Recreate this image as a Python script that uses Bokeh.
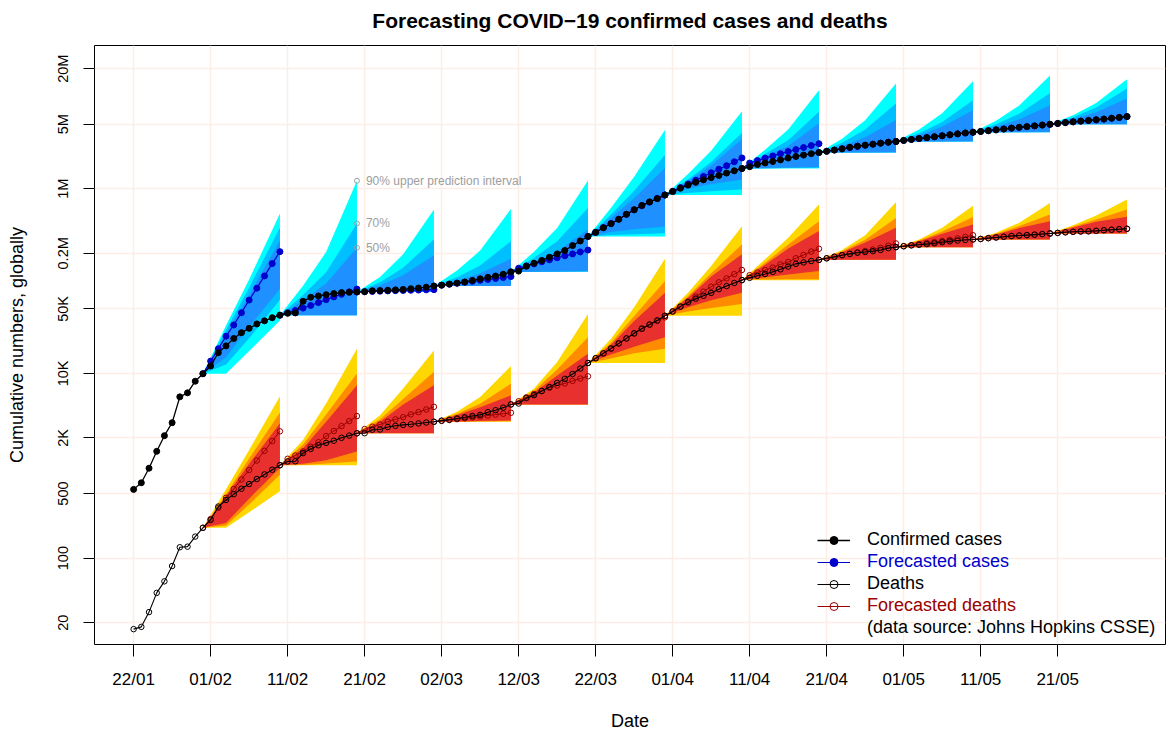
import pandas as pd
from bokeh.plotting import figure
from bokeh.models import Range1d, FixedTicker, Legend, LegendItem, LinearAxis
from bokeh.embed import file_html
from bokeh.resources import INLINE
from bokeh.core.properties import value

FONT = "Liberation Sans"

# ---------------- data ----------------
dates = pd.date_range("2020-01-22", "2020-05-30", freq="D")
date_labels = [d.strftime("%d/%m") for d in dates]
days = list(range(len(dates)))

confirmed = [
    555, 654, 941, 1434, 2118, 2927, 5578, 6166, 8234, 9927,
    12038, 16787, 19887, 23898, 27643, 30802, 34395, 37129, 40160, 42769,
    44811, 45228, 60381, 66907, 69052, 71235, 73270, 75152, 75652, 76212,
    76841, 78602, 78982, 79546, 80399, 81376, 82738, 84122, 86014, 88371,
    90309, 92844, 95124, 97886, 101801, 105847, 109821, 113590, 118620, 125875,
    128352, 145205, 156101, 167454, 181574, 197102, 214821, 242570, 272208, 304507,
    336953, 378235, 418045, 467653, 529591, 593291, 660706, 720117, 782365, 857487,
    932605, 1013466, 1095917, 1176060, 1249754, 1321481, 1396476, 1480202, 1565278, 1657526,
    1735650, 1834721, 1904838, 1976191, 2056054, 2152437, 2240190, 2317759, 2401378, 2472259,
    2549294, 2624068, 2708885, 2811193, 2896746, 2971475, 3041764, 3116398, 3193886, 3256910,
    3343777, 3427343, 3506729, 3583055, 3662691, 3755341, 3845718, 3938064, 4024009, 4101699,
    4177502, 4261747, 4347018, 4442163, 4542347, 4634068, 4713620, 4801943, 4897492, 4996472,
    5102424, 5210817, 5310362, 5407613, 5495061, 5589626, 5691790, 5808946, 5930093, 6059017,
]
deaths = [
    17, 18, 26, 42, 56, 82, 131, 133, 171, 213,
    259, 362, 426, 492, 564, 634, 719, 806, 906, 1013,
    1113, 1118, 1371, 1523, 1666, 1770, 1868, 2007, 2122, 2247,
    2251, 2458, 2469, 2629, 2708, 2770, 2814, 2872, 2941, 2996,
    3085, 3160, 3254, 3348, 3460, 3558, 3803, 3996, 4262, 4615,
    4720, 5404, 5819, 6440, 7126, 7905, 8733, 9867, 11299, 12973,
    14623, 16497, 18615, 21181, 23970, 27198, 30652, 33925, 37582, 42107,
    46809, 52983, 58787, 64606, 69374, 74565, 81865, 88338, 95455, 102525,
    108503, 114091, 119482, 125984, 134177, 143800, 153822, 159510, 165044, 169986,
    176583, 183066, 190858, 197159, 202846, 206544, 211167, 217153, 227638, 233388,
    238619, 243813, 247470, 251537, 257239, 263855, 269567, 274898, 279311, 282709,
    286330, 291942, 297197, 302418, 307666, 311781, 315185, 318481, 323285, 328115,
    332924, 338160, 342097, 345059, 346232, 350453, 355629, 360308, 364867, 369126,
]

fan_origins = [9, 19, 29, 39, 49, 59, 69, 79, 89, 99, 109, 119]
fan_steps = [3, 6, 10]
horizon = [1, 2, 3, 4, 5, 6, 7, 8, 9, 10]

fc_cases = [
    [13.6e3, 18.5e3, 25.3e3, 33.5e3, 45.5e3, 62.3e3, 83.9e3, 113.8e3, 154.9e3, 208.5e3],
    [45.5e3, 48e3, 51e3, 54.5e3, 58.5e3, 63e3, 67.5e3, 72e3, 76.5e3, 82e3],
    [76.8e3, 77.3e3, 77.8e3, 78.3e3, 78.8e3, 79.2e3, 79.6e3, 80.0e3, 80.4e3, 80.8e3],
    [90.5e3, 92.7e3, 94.9e3, 97.2e3, 99.5e3, 101.9e3, 104.3e3, 106.8e3, 109.4e3, 112e3],
    [138e3, 146e3, 154e3, 162e3, 170e3, 179e3, 188e3, 197e3, 207e3, 217e3],
    [338e3, 380e3, 420e3, 468e3, 528e3, 590e3, 655e3, 718e3, 785e3, 855e3],
    [940e3, 1.03e6, 1.13e6, 1.24e6, 1.36e6, 1.49e6, 1.63e6, 1.78e6, 1.96e6, 2.16e6],
    [1.90e6, 2.02e6, 2.15e6, 2.27e6, 2.40e6, 2.53e6, 2.66e6, 2.80e6, 2.94e6, 3.08e6],
    [2.55e6, 2.63e6, 2.71e6, 2.80e6, 2.88e6, 2.96e6, 3.04e6, 3.12e6, 3.19e6, 3.26e6],
    [3.34e6, 3.42e6, 3.50e6, 3.58e6, 3.66e6, 3.75e6, 3.84e6, 3.93e6, 4.02e6, 4.10e6],
    [4.18e6, 4.26e6, 4.35e6, 4.44e6, 4.54e6, 4.63e6, 4.71e6, 4.80e6, 4.90e6, 5.00e6],
    [5.10e6, 5.21e6, 5.31e6, 5.41e6, 5.50e6, 5.59e6, 5.69e6, 5.81e6, 5.93e6, 6.06e6],
]
fc_deaths = [
    [265, 350, 450, 560, 710, 900, 1140, 1450, 1850, 2360],
    [1.19e3, 1.29e3, 1.43e3, 1.61e3, 1.80e3, 2.10e3, 2.38e3, 2.69e3, 3.05e3, 3.45e3],
    [2.50e3, 2.65e3, 2.80e3, 3.00e3, 3.18e3, 3.36e3, 3.60e3, 3.81e3, 4.07e3, 4.35e3],
    [3.06e3, 3.13e3, 3.20e3, 3.27e3, 3.34e3, 3.42e3, 3.50e3, 3.58e3, 3.66e3, 3.75e3],
    [5.0e3, 5.5e3, 6.0e3, 6.5e3, 7.0e3, 7.4e3, 7.8e3, 8.3e3, 8.8e3, 9.3e3],
    [14.6e3, 16.5e3, 18.6e3, 21.1e3, 23.9e3, 27.0e3, 30.3e3, 33.6e3, 37.0e3, 40.5e3],
    [47e3, 53e3, 60e3, 68e3, 77e3, 87e3, 97e3, 107e3, 119e3, 132e3],
    [116e3, 124e3, 132e3, 140e3, 152e3, 161e3, 177e3, 192e3, 209e3, 224e3],
    [177e3, 184e3, 191e3, 198e3, 205e3, 212e3, 220e3, 229e3, 242e3, 256e3],
    [239e3, 245e3, 251e3, 258e3, 265e3, 272e3, 280e3, 290e3, 301e3, 314e3],
    [286e3, 292e3, 297e3, 302e3, 308e3, 312e3, 315e3, 319e3, 323e3, 328e3],
    [333e3, 338e3, 342e3, 345e3, 347e3, 350e3, 356e3, 360e3, 365e3, 369e3],
]

# prediction-interval bounds at fan_steps days after each origin
case_u90 = [
    [33e3, 104e3, 540e3], [89e3, 207e3, 1.22e6], [111e3, 195e3, 597e3],
    [130e3, 214e3, 606e3], [208e3, 376e3, 1.23e6], [624e3, 1.35e6, 4.34e6],
    [1.45e6, 2.59e6, 6.93e6], [2.65e6, 4.40e6, 11.7e6], [3.49e6, 5.54e6, 13.8e6],
    [4.40e6, 6.59e6, 14.6e6], [5.45e6, 7.98e6, 16.9e6], [6.27e6, 8.48e6, 15.4e6],
]
case_u70 = [
    [29.6e3, 85e3, 380e3], [70.7e3, 125e3, 421e3], [97.5e3, 140e3, 284e3],
    [110e3, 148e3, 271e3], [179e3, 271e3, 621e3], [528e3, 951e3, 2.33e6],
    [1.26e6, 1.95e6, 4.05e6], [2.40e6, 3.36e6, 6.82e6], [3.16e6, 4.39e6, 8.40e6],
    [4.00e6, 5.28e6, 9.10e6], [4.99e6, 6.49e6, 10.9e6], [5.97e6, 7.60e6, 12.2e6],
]
case_u50 = [
    [26.9e3, 70.5e3, 275e3], [61.9e3, 94.4e3, 230e3], [89.8e3, 116e3, 190e3],
    [101e3, 121e3, 175e3], [159e3, 209e3, 363e3], [483e3, 791e3, 1.68e6],
    [1.21e6, 1.79e6, 3.44e6], [2.25e6, 2.91e6, 5.12e6], [2.90e6, 3.61e6, 5.55e6],
    [3.81e6, 4.70e6, 7.10e6], [4.70e6, 5.64e6, 8.05e6], [5.69e6, 6.76e6, 9.50e6],
]
case_l50 = [
    [15.0e3, 32.0e3, 82.0e3], [42.8e3, 42.8e3, 42.8e3], [76.2e3, 76.2e3, 76.2e3],
    [88.4e3, 88.4e3, 88.4e3], [126e3, 127e3, 128e3], [340e3, 365e3, 390e3],
    [1.00e6, 1.13e6, 1.26e6], [1.68e6, 1.70e6, 1.72e6], [2.48e6, 2.48e6, 2.49e6],
    [3.26e6, 3.26e6, 3.27e6], [4.10e6, 4.10e6, 4.11e6], [5.00e6, 5.00e6, 5.01e6],
]
case_l70 = [
    [12.5e3, 24.0e3, 63.0e3], [42.8e3, 42.8e3, 42.8e3], [76.2e3, 76.2e3, 76.2e3],
    [88.4e3, 88.4e3, 88.4e3], [126e3, 126e3, 127e3], [315e3, 322e3, 330e3],
    [900e3, 940e3, 980e3], [1.66e6, 1.68e6, 1.69e6], [2.47e6, 2.47e6, 2.48e6],
    [3.26e6, 3.26e6, 3.26e6], [4.10e6, 4.10e6, 4.10e6], [5.00e6, 5.00e6, 5.00e6],
]
case_l90 = [
    [9.93e3, 17.5e3, 37.5e3], [42.8e3, 42.8e3, 42.8e3], [76.2e3, 76.2e3, 76.2e3],
    [88.4e3, 88.4e3, 88.4e3], [126e3, 126e3, 126e3], [305e3, 305e3, 305e3],
    [857e3, 857e3, 857e3], [1.66e6, 1.66e6, 1.66e6], [2.47e6, 2.47e6, 2.47e6],
    [3.26e6, 3.26e6, 3.26e6], [4.10e6, 4.10e6, 4.10e6], [5.00e6, 5.00e6, 5.00e6],
]
death_u90 = [
    [556, 1.48e3, 5.66e3], [1.90e3, 4.72e3, 18.5e3], [3.53e3, 6.85e3, 17.7e3],
    [3.85e3, 5.57e3, 12.0e3], [6.85e3, 13.3e3, 44.0e3], [23.7e3, 52.0e3, 175e3],
    [75.0e3, 146e3, 393e3], [172e3, 295e3, 675e3], [217e3, 313e3, 713e3],
    [283e3, 378e3, 657e3], [334e3, 428e3, 703e3], [404e3, 513e3, 765e3],
]
death_u70 = [
    [490, 1.20e3, 3.78e3], [1.70e3, 3.60e3, 10.0e3], [3.20e3, 5.30e3, 10.4e3],
    [3.65e3, 4.70e3, 7.74e3], [6.50e3, 11.0e3, 24.7e3], [21.5e3, 42.0e3, 100e3],
    [69.0e3, 122e3, 250e3], [158e3, 250e3, 446e3], [210e3, 280e3, 484e3],
    [275e3, 345e3, 496e3], [325e3, 395e3, 526e3], [390e3, 465e3, 597e3],
]
death_u50 = [
    [470, 1.05e3, 2.88e3], [1.55e3, 3.00e3, 7.43e3], [3.00e3, 4.60e3, 7.43e3],
    [3.55e3, 4.30e3, 5.80e3], [6.20e3, 9.50e3, 16.3e3], [20.5e3, 37.0e3, 75.0e3],
    [66.0e3, 112e3, 195e3], [150e3, 225e3, 348e3], [205e3, 262e3, 378e3],
    [270e3, 325e3, 410e3], [320e3, 375e3, 446e3], [380e3, 440e3, 497e3],
]
death_l50 = [
    [240, 440, 946], [1.05e3, 1.15e3, 1.43e3], [2.25e3, 2.25e3, 2.25e3],
    [3.02e3, 3.05e3, 3.10e3], [4.62e3, 4.62e3, 4.62e3], [16.0e3, 19.5e3, 24.7e3],
    [52.0e3, 62.0e3, 75.0e3], [110e3, 118e3, 129e3], [170e3, 170e3, 170e3],
    [233e3, 233e3, 233e3], [283e3, 283e3, 283e3], [328e3, 328e3, 328e3],
]
death_l70 = [
    [225, 380, 798], [1.02e3, 1.06e3, 1.11e3], [2.25e3, 2.25e3, 2.25e3],
    [3.00e3, 3.02e3, 3.03e3], [4.62e3, 4.62e3, 4.62e3], [14.5e3, 16.5e3, 18.5e3],
    [47.0e3, 51.0e3, 56.4e3], [104e3, 104.5e3, 105e3], [170e3, 170e3, 170e3],
    [233e3, 233e3, 233e3], [283e3, 283e3, 283e3], [328e3, 328e3, 328e3],
]
death_l90 = [
    [213, 314, 528], [1.01e3, 1.01e3, 1.01e3], [2.25e3, 2.25e3, 2.25e3],
    [3.00e3, 3.00e3, 3.00e3], [4.62e3, 4.62e3, 4.62e3], [13.0e3, 13.0e3, 13.0e3],
    [42.1e3, 42.1e3, 42.1e3], [102.5e3, 102.5e3, 102.5e3], [170e3, 170e3, 170e3],
    [233e3, 233e3, 233e3], [283e3, 283e3, 283e3], [328e3, 328e3, 328e3],
]

x_tick_days = [0, 10, 20, 30, 40, 50, 60, 70, 80, 90, 100, 110, 120]
y_ticks = [20, 100, 500, 2000, 10000, 50000, 200000, 1000000, 5000000, 20000000]
y_tick_labels = ["20", "100", "500", "2K", "10K", "50K", "0.2M", "1M", "5M", "20M"]

title_text = "Forecasting COVID\u221219 confirmed cases and deaths"
annot_fan = 1  # the 11/02 forecast carries the interval labels
annot_texts = ["90% upper prediction interval", "70%", "50%"]

legend_labels = ["Confirmed cases", "Forecasted cases", "Deaths",
                 "Forecasted deaths", "(data source: Johns Hopkins CSSE)"]

# ---------------- styles ----------------
CASE_COLS = ["#00FFFF", "#00BFFF", "#1E90FF"]
DEATH_COLS = ["#FFD700", "#FF8C00", "#E8312F"]
FC_BLUE = "#0000CD"
FC_RED = "#990000"
GRID = "#FCEDE6"
GREY = "#9E9E9E"

p = figure(width=1170, height=733, y_axis_type="log",
           x_range=Range1d(-5.08, 134.0), y_range=Range1d(11.59, 3.565e7),
           output_backend="svg", toolbar_location=None,
           min_border_left=94, min_border_right=5,
           min_border_top=45, min_border_bottom=86)
p.title.text = ""

p.background_fill_color = "white"
p.border_fill_color = "white"
p.outline_line_color = "black"
p.outline_line_width = 1

p.xaxis.ticker = FixedTicker(ticks=x_tick_days, minor_ticks=[])
p.xaxis.major_label_overrides = {d: date_labels[d] for d in x_tick_days}
p.yaxis.ticker = FixedTicker(ticks=y_ticks, minor_ticks=[])
p.yaxis.major_label_overrides = dict(zip(y_ticks, y_tick_labels))

for ax in (p.xaxis[0], p.yaxis[0]):
    ax.axis_line_color = None
    ax.major_tick_line_color = "black"
    ax.major_tick_in = 0
    ax.minor_tick_line_color = None
    ax.major_label_text_font = FONT
    ax.axis_label_text_font = FONT
    ax.axis_label_text_font_style = "normal"
    ax.axis_label_text_font_size = "18px"
    ax.axis_label_text_color = "black"
    ax.major_label_text_color = "black"

p.xaxis.major_tick_out = 12
p.xaxis.major_label_text_font_size = "17px"
p.xaxis.major_label_standoff = 13
p.xaxis.axis_label = "Date"
p.xaxis.axis_label_standoff = 19

p.yaxis.major_tick_out = 11
p.yaxis.major_label_text_font_size = "14.5px"
p.yaxis.major_label_orientation = "vertical"
p.yaxis.major_label_standoff = 12
p.yaxis.axis_label = "Cumulative numbers, globally"
p.yaxis.axis_label_standoff = 26

# title carried by a tick-less axis above the frame
top_axis = LinearAxis(ticker=FixedTicker(ticks=[], minor_ticks=[]), axis_label=title_text,
                      axis_line_color=None, major_tick_line_color=None,
                      minor_tick_line_color=None, major_tick_out=0, major_tick_in=0,
                      major_label_text_font_size="0px", major_label_standoff=0,
                      axis_label_standoff=14, axis_label_text_font=FONT,
                      axis_label_text_font_size="21px", axis_label_text_font_style="bold",
                      axis_label_text_color="black")
p.add_layout(top_axis, "above")

p.grid.grid_line_color = GRID
p.grid.grid_line_width = 1.5


def band(series, upper, lower):
    xs, ys = [], []
    for k, o in enumerate(fan_origins):
        v0 = series[o]
        xs.append([o] + [o + s for s in fan_steps] + [o + s for s in reversed(fan_steps)])
        ys.append([v0] + list(upper[k]) + list(reversed(lower[k])))
    return xs, ys


for series, bands, cols in (
    (confirmed, [(case_u90, case_l90), (case_u70, case_l70), (case_u50, case_l50)], CASE_COLS),
    (deaths, [(death_u90, death_l90), (death_u70, death_l70), (death_u50, death_l50)], DEATH_COLS),
):
    for (up, lo), col in zip(bands, cols):
        xs, ys = band(series, up, lo)
        p.patches(xs, ys, fill_color=col, line_color=None)

# annotation of interval levels
ao = fan_origins[annot_fan] + fan_steps[-1]
ay = [case_u90[annot_fan][-1], case_u70[annot_fan][-1], case_u50[annot_fan][-1]]
p.scatter([ao] * 3, ay, marker="circle", size=5, fill_color=None, line_color=GREY, line_width=1)
p.text([ao] * 3, ay, text=annot_texts, x_offset=9, text_baseline="middle", text_align="left",
       text_font=value(FONT), text_font_size="12px", text_color=GREY)

# forecasts
fc_case_r = None
fc_death_r = None
for k, o in enumerate(fan_origins):
    fx = [o] + [o + h for h in horizon]
    fy = [confirmed[o]] + fc_cases[k]
    l1 = p.line(fx, fy, line_color=FC_BLUE, line_width=1.2)
    s1 = p.scatter(fx, fy, marker="circle", size=6, fill_color=FC_BLUE, line_color=FC_BLUE)
    dy = [deaths[o]] + fc_deaths[k]
    l2 = p.line(fx, dy, line_color=FC_RED, line_width=1.0)
    s2 = p.scatter(fx, dy, marker="circle", size=5.5, fill_color=None, line_color=FC_RED, line_width=1)
    if fc_case_r is None:
        fc_case_r = [l1, s1]
        fc_death_r = [l2, s2]

# observed
cl = p.line(days, confirmed, line_color="black", line_width=1.3)
cs = p.scatter(days, confirmed, marker="circle", size=6, fill_color="black", line_color="black")
dl = p.line(days, deaths, line_color="black", line_width=1.1)
ds = p.scatter(days, deaths, marker="circle", size=5.5, fill_color=None, line_color="black", line_width=1)
dummy = p.line([], [], line_alpha=0)

legend_renderers = [[cl, cs], fc_case_r, [dl, ds], fc_death_r, [dummy]]
legend_colors = ["black", FC_BLUE, "black", FC_RED, "black"]
legend_y = [94, 72, 50, 28, 6]
for lab, rs, col, ly in zip(legend_labels, legend_renderers, legend_colors, legend_y):
    leg = Legend(items=[LegendItem(label=lab, renderers=rs)], location=(723, ly),
                 border_line_color=None, background_fill_alpha=0, padding=0, margin=0,
                 glyph_width=33, glyph_height=20, label_height=20, label_standoff=17,
                 label_text_font=FONT, label_text_font_size="18px", label_text_color=col,
                 spacing=0)
    p.add_layout(leg)

open("out.html", "w").write(file_html(p, INLINE))
